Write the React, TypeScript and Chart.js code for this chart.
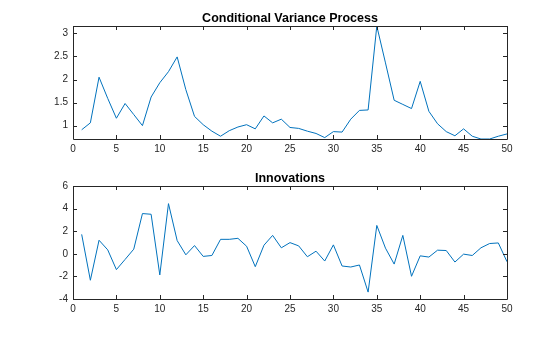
import React, { useEffect, useRef } from "react";
import { Chart, registerables } from "chart.js";
Chart.register(...registerables);

const timeSteps: number[] = Array.from({ length: 50 }, (_, i) => i + 1);
const condVariance: number[] = [
  0.91, 1.06, 2.05, 1.59, 1.16, 1.48, 1.24, 1.0, 1.62, 1.93,
  2.17, 2.49, 1.78, 1.2, 1.02, 0.88, 0.77, 0.89, 0.97, 1.02,
  0.93, 1.21, 1.06, 1.14, 0.96, 0.94, 0.88, 0.83, 0.74, 0.87,
  0.86, 1.14, 1.33, 1.34, 3.16, 2.36, 1.55, 1.46, 1.37, 1.96,
  1.31, 1.04, 0.87, 0.78, 0.93, 0.77, 0.71, 0.71, 0.77, 0.82,
];
const innovations: number[] = [
  1.72, -2.34, 1.2, 0.35, -1.4, -0.5, 0.41, 3.56, 3.5, -1.87,
  4.44, 1.17, -0.09, 0.73, -0.23, -0.15, 1.28, 1.28, 1.37, 0.67,
  -1.14, 0.76, 1.63, 0.53, 0.99, 0.7, -0.26, 0.23, -0.64, 0.79,
  -1.08, -1.17, -0.99, -3.39, 2.51, 0.5, -0.91, 1.63, -1.99, -0.18,
  -0.29, 0.32, 0.29, -0.73, -0.03, -0.15, 0.53, 0.91, 0.96, -0.7,
];
const xTicks: number[] = [0, 5, 10, 15, 20, 25, 30, 35, 40, 45, 50];
const varTicks: number[] = [1, 1.5, 2, 2.5, 3];
const innTicks: number[] = [-4, -2, 0, 2, 4, 6];

const FONT = "Arial, 'Liberation Sans', Helvetica, sans-serif";
const AXIS_COLOR = "#262626";

function makeBoxPlugin(title: string) {
  return {
    id: "matlabBox",
    afterDraw(chart: any) {
      const { ctx, chartArea: a, scales } = chart;
      ctx.save();
      ctx.strokeStyle = AXIS_COLOR;
      ctx.lineWidth = 1;
      ctx.beginPath();
      ctx.rect(Math.round(a.left) + 0.5, Math.round(a.top) + 0.5, Math.round(a.right - a.left), Math.round(a.bottom - a.top));
      ctx.stroke();
      const tl = 4;
      ctx.beginPath();
      for (const t of scales.x.ticks) {
        const px = Math.round(scales.x.getPixelForValue(t.value)) + 0.5;
        ctx.moveTo(px, a.bottom);
        ctx.lineTo(px, a.bottom - tl);
        ctx.moveTo(px, a.top);
        ctx.lineTo(px, a.top + tl);
      }
      for (const t of scales.y.ticks) {
        const py = Math.round(scales.y.getPixelForValue(t.value)) + 0.5;
        ctx.moveTo(a.left, py);
        ctx.lineTo(a.left + tl, py);
        ctx.moveTo(a.right, py);
        ctx.lineTo(a.right - tl, py);
      }
      ctx.stroke();
      ctx.fillStyle = "#000";
      ctx.font = `bold 12.5px ${FONT}`;
      ctx.textAlign = "center";
      ctx.textBaseline = "alphabetic";
      ctx.fillText(title, (a.left + a.right) / 2, a.top - 4);
      ctx.restore();
    },
  };
}

function LinePanel(props: {
  data: number[];
  title: string;
  yMin: number;
  yMax: number;
  yTicks: number[];
  height: number;
  top: number;
}) {
  const ref = useRef<HTMLCanvasElement | null>(null);
  useEffect(() => {
    if (!ref.current) return;
    const xAxisH = props.height - 139;
    const chart = new Chart(ref.current, {
      type: "line",
      data: {
        datasets: [
          {
            data: timeSteps.map((t, i) => ({ x: t, y: props.data[i] })),
            borderColor: "#0072BD",
            borderWidth: 1,
            pointRadius: 0,
            tension: 0,
            fill: false,
          },
        ],
      },
      options: {
        animation: false,
        responsive: false,
        maintainAspectRatio: false,
        layout: { padding: { left: 0, right: 53, top: 26, bottom: 0 } },
        plugins: { legend: { display: false }, tooltip: { enabled: false } },
        scales: {
          x: {
            type: "linear",
            min: 0,
            max: 50,
            afterBuildTicks: (s: any) => {
              s.ticks = xTicks.map((v) => ({ value: v }));
            },
            afterFit: (s: any) => {
              s.height = xAxisH;
            },
            grid: { display: false, drawTicks: false },
            border: { display: false },
            ticks: {
              color: AXIS_COLOR,
              font: { family: FONT, size: 10 },
              padding: 4,
              maxRotation: 0,
              autoSkip: false,
            },
          },
          y: {
            type: "linear",
            min: props.yMin,
            max: props.yMax,
            afterBuildTicks: (s: any) => {
              s.ticks = props.yTicks.map((v) => ({ value: v }));
            },
            afterFit: (s: any) => {
              s.width = 73;
            },
            grid: { display: false, drawTicks: false },
            border: { display: false },
            ticks: {
              color: AXIS_COLOR,
              font: { family: FONT, size: 10 },
              padding: 5,
              autoSkip: false,
              callback: (v: any) => String(v),
            },
          },
        },
      },
      plugins: [makeBoxPlugin(props.title)],
    } as any);
    return () => chart.destroy();
  }, []);
  return (
    <canvas
      ref={ref}
      width={560}
      height={props.height}
      style={{ position: "absolute", left: 0, top: props.top, width: 560, height: props.height }}
    />
  );
}

export default function App() {
  return (
    <div style={{ position: "fixed", left: 0, top: 0, width: 560, height: 337, background: "#fff" }}>
      <LinePanel data={condVariance} title="Conditional Variance Process" yMin={0.71} yMax={3.16} yTicks={varTicks} height={160} top={0} />
      <LinePanel data={innovations} title="Innovations" yMin={-4} yMax={6} yTicks={innTicks} height={177} top={160} />
    </div>
  );
}
